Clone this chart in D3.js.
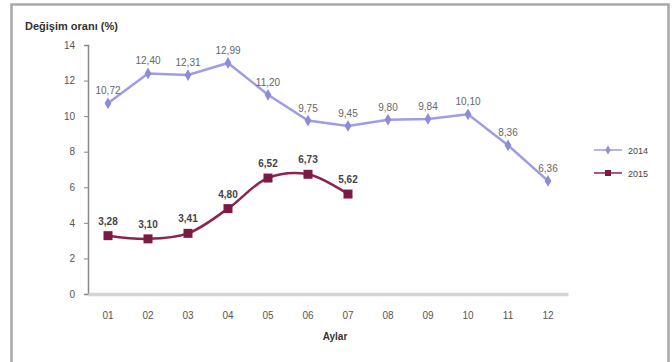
<!DOCTYPE html>
<html>
<head>
<meta charset="utf-8">
<script src="https://cdn.jsdelivr.net/npm/d3@7"></script>
<style>
  body { margin: 0; background: #fff; }
  svg { display: block; font-family: "Liberation Sans", Arial, sans-serif; }
</style>
</head>
<body>
<svg id="chart" width="672" height="362"></svg>
<script>
// Months on the x axis
const months = ["01","02","03","04","05","06","07","08","09","10","11","12"];
// Monthly change rate (%) per year
const values2014 = [10.72, 12.40, 12.31, 12.99, 11.20, 9.75, 9.45, 9.80, 9.84, 10.10, 8.36, 6.36];
const values2015 = [3.28, 3.10, 3.41, 4.80, 6.52, 6.73, 5.62];
const yTicks = [0, 2, 4, 6, 8, 10, 12, 14];
const seriesNames = ["2014", "2015"];

const svg = d3.select("#chart");

// outer frame
svg.append("rect").attr("x", 11.5).attr("y", 4.5).attr("width", 657).attr("height", 362)
  .attr("fill", "#fff").attr("stroke", "#a8a8a8").attr("stroke-width", 2.5);

const x = d3.scaleBand().domain(months).range([88, 568]);
const y = d3.scaleLinear().domain([0, 14]).range([294, 45]);
const fmt = v => v.toFixed(2).replace(".", ",");

// title
svg.append("text").attr("x", 25).attr("y", 30)
  .attr("font-size", 11).attr("font-weight", "bold").attr("fill", "#333")
  .text("Değişim oranı (%)");

// y axis
const yAxis = svg.append("g").attr("transform", "translate(88,0)")
  .call(d3.axisLeft(y).tickValues(yTicks).tickSize(4).tickPadding(9));
yAxis.select(".domain").attr("stroke", "#888").attr("stroke-width", 1.5);
yAxis.selectAll(".tick line").attr("stroke", "#888");
yAxis.selectAll("text").attr("font-size", 10).attr("fill", "#555")
  .attr("font-family", "Liberation Sans, Arial, sans-serif");

// x axis
const xAxis = svg.append("g").attr("transform", "translate(0,294)")
  .call(d3.axisBottom(x).tickSize(0).tickPadding(18));
xAxis.select(".domain").attr("stroke", "#d4d4d4").attr("stroke-width", 3.5);
xAxis.selectAll("text").attr("font-size", 10).attr("fill", "#555")
  .attr("font-family", "Liberation Sans, Arial, sans-serif");

svg.append("text").attr("x", 335).attr("y", 340).attr("text-anchor", "middle")
  .attr("font-size", 10).attr("font-weight", "bold").attr("fill", "#333").text("Aylar");

const cx = m => x(m) + x.bandwidth() / 2;
const line = d3.line().x((d, i) => cx(months[i])).y(d => y(d));
const smooth = d3.line().x((d, i) => cx(months[i])).y(d => y(d)).curve(d3.curveCatmullRom.alpha(0.5));

// 2014 series
const c14 = "#9d9de6";
svg.append("path").datum(values2014).attr("d", line)
  .attr("fill", "none").attr("stroke", c14).attr("stroke-width", 2.5);
svg.selectAll(".m14").data(values2014).enter().append("path")
  .attr("transform", (d, i) => `translate(${cx(months[i])},${y(d)})`)
  .attr("d", d3.symbol(d3.symbolDiamond, 40)).attr("fill", "#8c8cd8");
svg.selectAll(".l14").data(values2014).enter().append("text")
  .attr("x", (d, i) => cx(months[i])).attr("y", d => y(d) - 9)
  .attr("text-anchor", "middle").attr("font-size", 10).attr("fill", "#666")
  .text(fmt);

// 2015 series (smoothed line)
const c15 = "#8e2350";
svg.append("path").datum(values2015).attr("d", smooth)
  .attr("fill", "none").attr("stroke", c15).attr("stroke-width", 2.5);
svg.selectAll(".m15").data(values2015).enter().append("rect")
  .attr("x", (d, i) => cx(months[i]) - 4.5).attr("y", d => y(d) - 4.5)
  .attr("width", 9).attr("height", 9).attr("fill", "#7d1a44");
svg.selectAll(".l15").data(values2015).enter().append("text")
  .attr("x", (d, i) => cx(months[i])).attr("y", d => y(d) - 11)
  .attr("text-anchor", "middle").attr("font-size", 10).attr("font-weight", "bold").attr("fill", "#444")
  .text(fmt);

// legend
const legend = svg.append("g");
[[c14, "diamond"], [c15, "square"]].forEach(([c, s], i) => {
  const ly = 150 + i * 23;
  legend.append("line").attr("x1", 594).attr("x2", 622).attr("y1", ly).attr("y2", ly)
    .attr("stroke", c).attr("stroke-width", 1.5);
  if (s === "diamond") {
    legend.append("path").attr("transform", `translate(608,${ly})`)
      .attr("d", d3.symbol(d3.symbolDiamond, 24)).attr("fill", "#8c8cd8");
  } else {
    legend.append("rect").attr("x", 605).attr("y", ly - 3).attr("width", 6).attr("height", 6).attr("fill", "#7d1a44");
  }
  legend.append("text").attr("x", 628).attr("y", ly + 3.5)
    .attr("font-size", 9).attr("fill", "#444").text(seriesNames[i]);
});
</script>
</body>
</html>
